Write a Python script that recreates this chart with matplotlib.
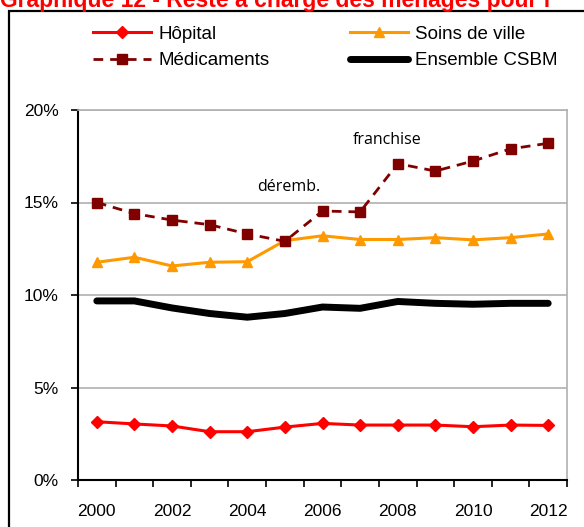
import matplotlib
matplotlib.use("Agg")
import matplotlib.pyplot as plt
from matplotlib.patches import Rectangle
from matplotlib.ticker import FuncFormatter, MultipleLocator

years = list(range(2000, 2013))
hopital = [3.15, 3.03, 2.92, 2.61, 2.61, 2.86, 3.06, 2.97, 2.97, 2.97, 2.88, 2.97, 2.95]
soins_ville = [11.77, 12.04, 11.57, 11.77, 11.8, 12.94, 13.2, 13.0, 13.0, 13.1, 12.98, 13.1, 13.3]
medicaments = [15.0, 14.4, 14.05, 13.8, 13.3, 12.9, 14.54, 14.49, 17.1, 16.7, 17.24, 17.9, 18.2]
ensemble = [9.68, 9.68, 9.3, 9.0, 8.8, 9.0, 9.35, 9.28, 9.65, 9.55, 9.5, 9.55, 9.55]
xtick_years = [2000, 2002, 2004, 2006, 2008, 2010, 2012]
annotations = [("déremb.", 2005.1, 15.85), ("franchise", 2007.73, 18.38)]

plt.rcParams['font.family'] = ['Liberation Sans', 'DejaVu Sans']

fig = plt.figure(figsize=(5.84, 5.27), dpi=100)
W, H = 584, 527
ax = fig.add_axes([78 / W, 1 - 480 / H, (567 - 78) / W, (480 - 110) / H])

l_hop, = ax.plot(years, hopital, color='#FF0000', lw=2.2, marker='D', ms=6.5, label='Hôpital', zorder=4)
l_med, = ax.plot(years, medicaments, color='#800000', lw=2.0, ls=(0, (3.5, 2.5)), marker='s', ms=7.5,
                 label='Médicaments', zorder=5)
l_sv, = ax.plot(years, soins_ville, color='#FF9900', lw=2.2, marker='^', ms=7.5, label='Soins de ville', zorder=4)
l_ens, = ax.plot(years, ensemble, color='#000000', lw=5, solid_capstyle='round', label='Ensemble CSBM', zorder=3)

for txt, x, y in annotations:
    ax.text(x, y, txt, ha='center', va='center', fontsize=11.5, family=['Open Sans', 'DejaVu Sans'])

ax.set_xlim(1999.5, 2012.5)
ax.set_ylim(0, 20)
ax.yaxis.set_major_locator(MultipleLocator(5))
ax.yaxis.set_major_formatter(FuncFormatter(lambda v, p: f"{int(v)}%"))
ax.set_xticks(xtick_years)
ax.set_xticklabels([str(y) for y in xtick_years])
ax.set_xticks([1999.5 + k for k in range(14)], minor=True)
ax.tick_params(axis='x', which='major', length=0, pad=17, labelsize=12.5)
ax.tick_params(axis='x', which='minor', length=5, width=1.2, direction='out')
ax.tick_params(axis='y', which='major', length=5, width=1.2, direction='out', pad=9, labelsize=12.5)
ax.grid(axis='y', color='#B0B0B0', lw=1.2)
ax.set_axisbelow(True)
for s in ['top', 'right']:
    ax.spines[s].set_color('#B0B0B0')
    ax.spines[s].set_linewidth(1.2)
for s in ['left', 'bottom']:
    ax.spines[s].set_color('black')
    ax.spines[s].set_linewidth(1.5)

fig.legend(handles=[l_hop, l_med, l_sv, l_ens], ncol=2, loc='center', bbox_to_anchor=(325.5 / W, 1 - 47.5 / H),
           frameon=False, fontsize=13.5, handlelength=3.1, columnspacing=4.3, labelspacing=0.5,
           handletextpad=0.37)

fig.patches.append(Rectangle((9 / W, -0.1), 1.2, 1 - 11 / H + 0.1, transform=fig.transFigure,
                             fill=False, edgecolor='black', lw=1.6))
fig.text(0.0, 1 - 7 / H, "Graphique 12 - Reste à charge des ménages pour l",
         color='#FF0000', fontsize=16.5, fontweight='bold', ha='left', va='baseline')

fig.savefig("out.png", dpi=100)
